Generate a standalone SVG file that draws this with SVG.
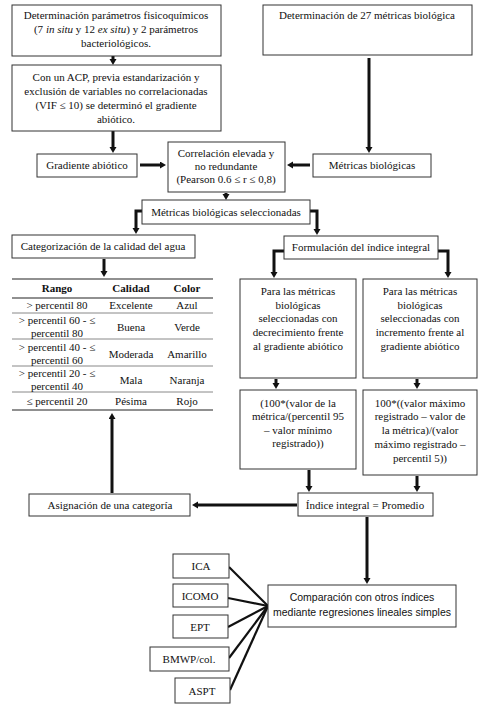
<svg xmlns="http://www.w3.org/2000/svg" width="489" height="712" viewBox="0 0 489 712">
<defs>
<marker id="ah" markerUnits="userSpaceOnUse" markerWidth="8" markerHeight="8" refX="1" refY="3.5" orient="auto">
<path d="M0,0 L6,3.5 L0,7 z" fill="#111"/>
</marker>
<style>
.b{fill:#fff;stroke:#333;stroke-width:1}
.t{font-family:"Liberation Serif","Times New Roman",serif;font-size:11px;fill:#111;text-anchor:middle}
.th{font-weight:bold}
.s{font-family:"Liberation Sans",Arial,sans-serif;font-size:10.5px;fill:#111;text-anchor:middle}
.a{stroke:#111;stroke-width:3;fill:none;marker-end:url(#ah)}
.l{stroke:#111;stroke-width:2.2;fill:none}
.tl{stroke:#222;stroke-width:1.2}
.tg{stroke:#888;stroke-width:1}
</style>
</defs>
<rect width="489" height="712" fill="#fff"/>

<g id="connectors">
<line class="a" x1="113" y1="56" x2="113" y2="60"/>
<line class="a" x1="113" y1="131" x2="113" y2="148"/>
<line class="a" x1="369" y1="58" x2="369" y2="148"/>
<line class="a" x1="140" y1="165" x2="161" y2="165"/>
<line class="a" x1="310" y1="165" x2="292" y2="165"/>
<line class="a" x1="226" y1="193" x2="226" y2="195"/>
<path class="a" d="M142,211 H136 V229"/>
<path class="a" d="M310,211 H317 V230"/>
<line class="a" x1="104" y1="259" x2="104" y2="272"/>
<path class="a" d="M284,251 H274 V273"/>
<path class="a" d="M438,251 H448 V273"/>
<line class="a" x1="276" y1="379" x2="276" y2="384"/>
<line class="a" x1="417" y1="379" x2="417" y2="384"/>
<line class="a" x1="309" y1="470" x2="309" y2="487"/>
<line class="a" x1="417" y1="476" x2="417" y2="487"/>
<line class="a" x1="297" y1="505" x2="197" y2="505"/>
<line class="a" x1="112" y1="493" x2="112" y2="418"/>
<line class="a" x1="367" y1="517" x2="367" y2="579"/>
<line class="l" x1="229" y1="567" x2="268" y2="606"/>
<line class="l" x1="228" y1="598" x2="268" y2="606"/>
<line class="l" x1="228" y1="627" x2="268" y2="606"/>
<line class="l" x1="229" y1="658" x2="268" y2="606"/>
<line class="l" x1="230" y1="690" x2="268" y2="606"/>
</g>

<g id="n-fisico">
<rect class="b" x="12" y="5" width="209" height="51"/>
<text class="t" x="116" y="19">Determinación parámetros fisicoquímicos</text>
<text class="t" x="116" y="33">(7 <tspan font-style="italic">in situ</tspan> y 12 <tspan font-style="italic">ex situ</tspan>) y 2 parámetros</text>
<text class="t" x="116" y="47">bacteriológicos.</text>
</g>
<g id="n-27">
<rect class="b" x="263" y="5" width="209" height="50"/>
<text class="t" x="367" y="19">Determinación de 27 métricas biológica</text>
</g>
<g id="n-acp">
<rect class="b" x="12" y="65" width="209" height="66"/>
<text class="t" x="116" y="81">Con un ACP, previa estandarización y</text>
<text class="t" x="116" y="95">exclusión de variables no correlacionadas</text>
<text class="t" x="116" y="109">(VIF ≤ 10) se determinó el gradiente</text>
<text class="t" x="116" y="123">abiótico.</text>
</g>
<g id="n-gradiente">
<rect class="b" x="37" y="154" width="100" height="23"/>
<text class="t" x="87" y="169">Gradiente abiótico</text>
</g>
<g id="n-correlacion">
<rect class="b" x="168" y="142" width="117" height="50"/>
<text class="t" x="226" y="157">Correlación elevada y</text>
<text class="t" x="226" y="170">no redundante</text>
<text class="t" x="226" y="183">(Pearson 0.6 ≤ r ≤ 0,8)</text>
</g>
<g id="n-metricas">
<rect class="b" x="313" y="154" width="118" height="23"/>
<text class="t" x="372" y="169">Métricas biológicas</text>
</g>
<g id="n-seleccionadas">
<rect class="b" x="142" y="200" width="168" height="24"/>
<text class="t" x="226" y="216">Métricas biológicas seleccionadas</text>
</g>
<g id="n-categorizacion">
<rect class="b" x="12" y="235" width="183" height="23"/>
<text class="t" x="103" y="250">Categorización de la calidad del agua</text>
</g>
<g id="n-formulacion">
<rect class="b" x="284" y="236" width="154" height="23"/>
<text class="t" x="361" y="251">Formulación del índice integral</text>
</g>

<g id="n-tabla">
<line class="tl" x1="12" y1="279" x2="213" y2="279"/>
<line class="tl" x1="12" y1="298" x2="213" y2="298"/>
<line class="tg" x1="12" y1="313" x2="213" y2="313"/>
<line class="tg" x1="12" y1="339" x2="213" y2="339"/>
<line class="tg" x1="12" y1="366" x2="213" y2="366"/>
<line class="tg" x1="12" y1="392" x2="213" y2="392"/>
<line class="tl" x1="12" y1="410" x2="213" y2="410"/>
<text class="t th" x="57" y="292">Rango</text>
<text class="t th" x="131" y="292">Calidad</text>
<text class="t th" x="187" y="292">Color</text>
<text class="t" x="57" y="309">&gt; percentil 80</text>
<text class="t" x="131" y="309">Excelente</text>
<text class="t" x="187" y="309">Azul</text>
<text class="t" x="57" y="324">&gt; percentil 60 - ≤</text>
<text class="t" x="57" y="337">percentil 80</text>
<text class="t" x="131" y="331">Buena</text>
<text class="t" x="187" y="331">Verde</text>
<text class="t" x="57" y="351">&gt; percentil 40 - ≤</text>
<text class="t" x="57" y="364">percentil 60</text>
<text class="t" x="131" y="358">Moderada</text>
<text class="t" x="187" y="358">Amarillo</text>
<text class="t" x="57" y="377">&gt; percentil 20 - ≤</text>
<text class="t" x="57" y="390">percentil 40</text>
<text class="t" x="131" y="384">Mala</text>
<text class="t" x="187" y="384">Naranja</text>
<text class="t" x="57" y="405">≤ percentil 20</text>
<text class="t" x="131" y="405">Pésima</text>
<text class="t" x="187" y="405">Rojo</text>
</g>

<g id="n-decrecimiento">
<rect class="b" x="240" y="279" width="116" height="99"/>
<text class="t" x="298" y="295">Para las métricas</text>
<text class="t" x="298" y="309">biológicas</text>
<text class="t" x="298" y="322">seleccionadas con</text>
<text class="t" x="298" y="336">decrecimiento frente</text>
<text class="t" x="298" y="350">al gradiente abiótico</text>
</g>
<g id="n-incremento">
<rect class="b" x="363" y="279" width="114" height="99"/>
<text class="t" x="420" y="295">Para las métricas</text>
<text class="t" x="420" y="309">biológicas</text>
<text class="t" x="420" y="322">seleccionadas con</text>
<text class="t" x="420" y="336">incremento frente al</text>
<text class="t" x="420" y="350">gradiente abiótico</text>
</g>
<g id="n-formula1">
<rect class="b" x="240" y="390" width="116" height="79"/>
<text class="t" x="298" y="407">(100*(valor de la</text>
<text class="t" x="298" y="420">métrica/(percentil 95</text>
<text class="t" x="298" y="434">– valor mínimo</text>
<text class="t" x="298" y="447">registrado))</text>
</g>
<g id="n-formula2">
<rect class="b" x="363" y="390" width="114" height="85"/>
<text class="t" x="420" y="407">100*((valor máximo</text>
<text class="t" x="420" y="420">registrado – valor de</text>
<text class="t" x="420" y="434">la métrica)/(valor</text>
<text class="t" x="420" y="448">máximo registrado –</text>
<text class="t" x="420" y="462">percentil 5))</text>
</g>
<g id="n-indice">
<rect class="b" x="298" y="493" width="135" height="23"/>
<text class="t" x="365" y="509">Índice integral = Promedio</text>
</g>
<g id="n-asignacion">
<rect class="b" x="29" y="494" width="161" height="22"/>
<text class="t" x="110" y="509">Asignación de una categoría</text>
</g>
<g id="n-comparacion">
<rect class="b" x="268" y="585" width="188" height="42"/>
<text class="s" x="362" y="601">Comparación con otros índices</text>
<text class="s" x="362" y="616">mediante regresiones lineales simples</text>
</g>
<g id="n-ica">
<rect class="b" x="173" y="554" width="56" height="24"/>
<text class="t" x="201" y="570">ICA</text>
</g>
<g id="n-icomo">
<rect class="b" x="173" y="584" width="55" height="23"/>
<text class="t" x="200" y="600">ICOMO</text>
</g>
<g id="n-ept">
<rect class="b" x="173" y="615" width="55" height="23"/>
<text class="t" x="200" y="631">EPT</text>
</g>
<g id="n-bmwp">
<rect class="b" x="150" y="647" width="79" height="24"/>
<text class="t" x="189" y="663">BMWP/col.</text>
</g>
<g id="n-aspt">
<rect class="b" x="175" y="678" width="55" height="25"/>
<text class="t" x="202" y="695">ASPT</text>
</g>
</svg>
